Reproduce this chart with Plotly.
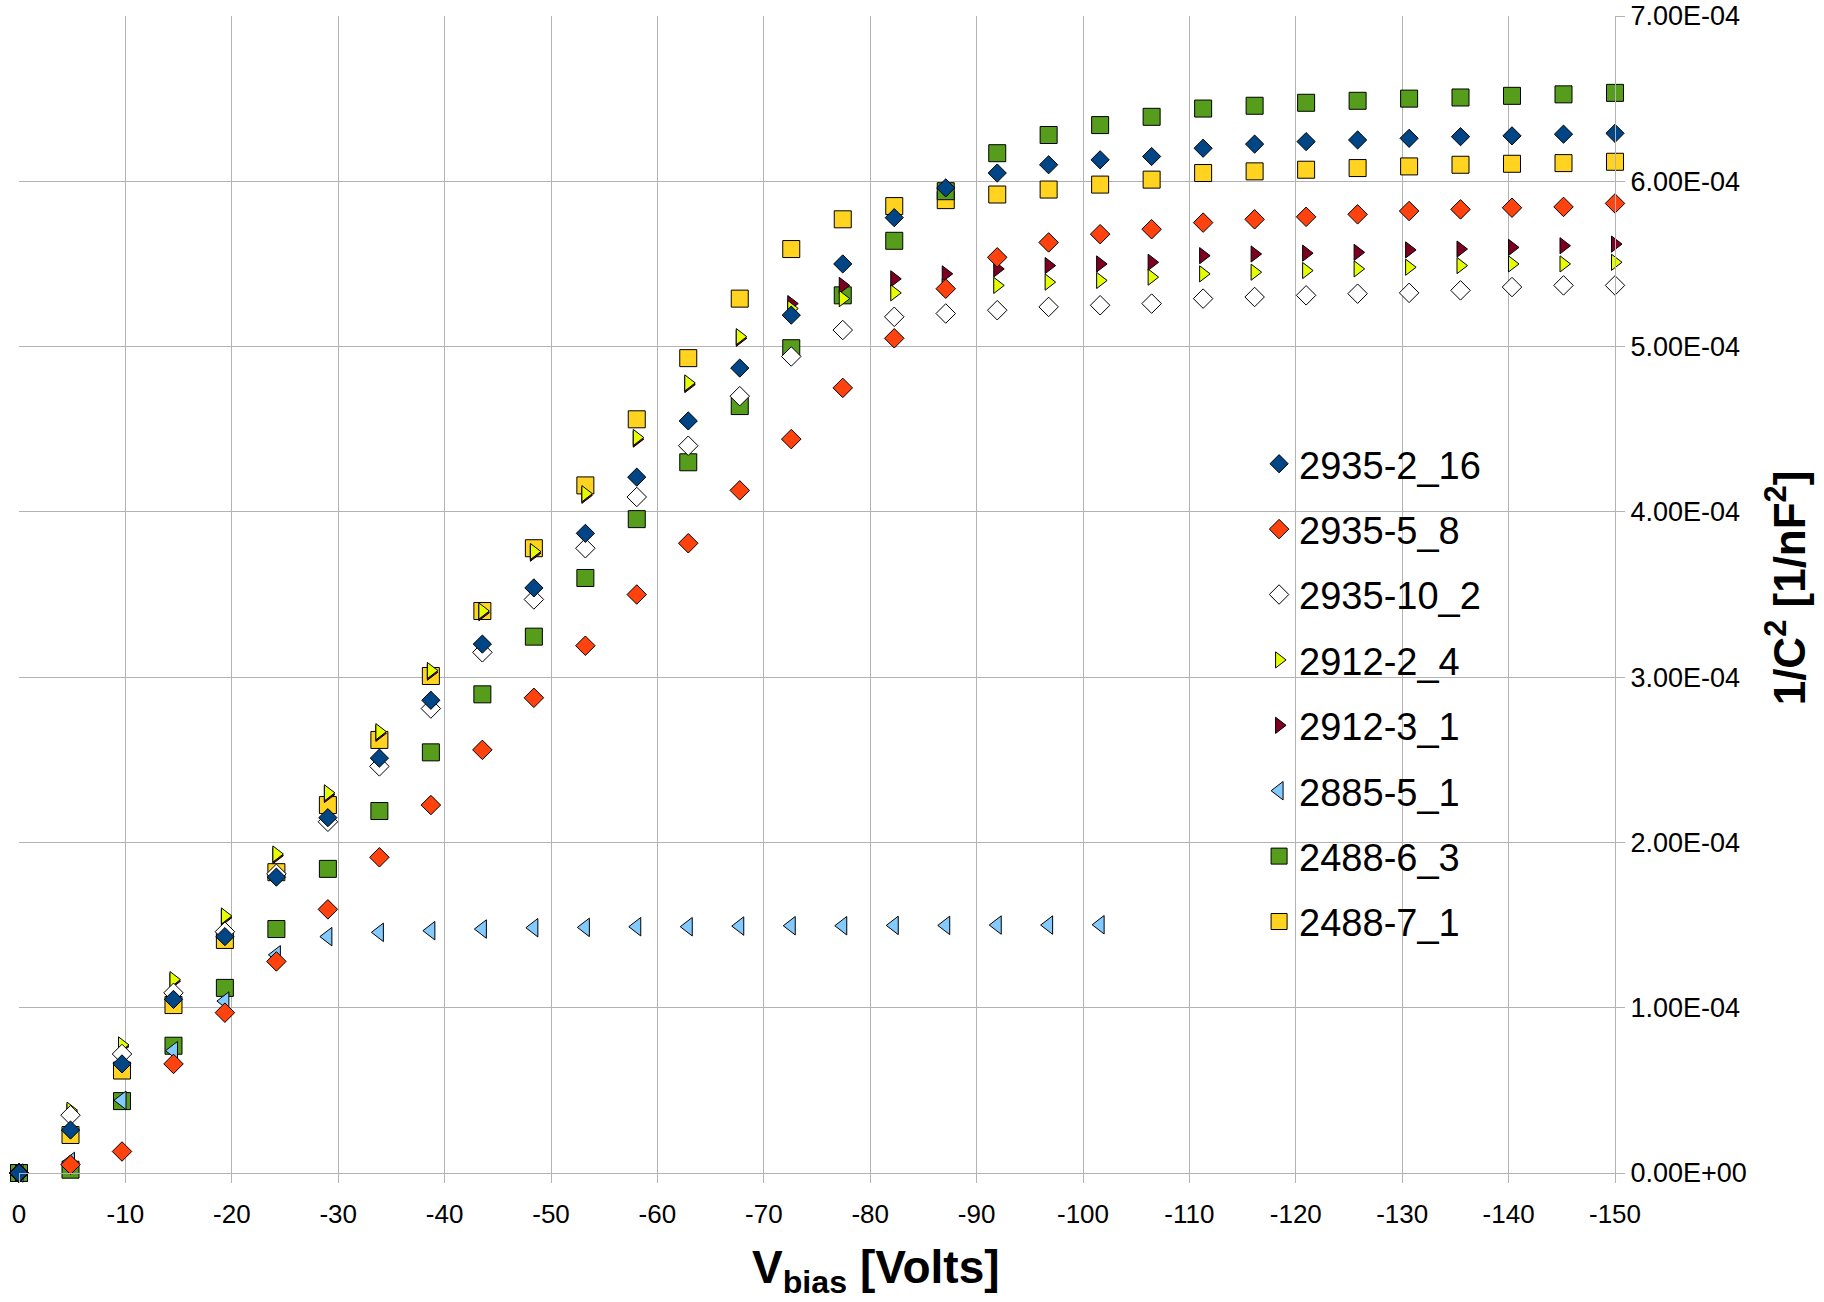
import plotly.graph_objects as go

# Bias voltage steps (V)
v_bias = [0, -4.84, -9.68, -14.52, -19.35, -24.19, -29.03, -33.87, -38.71, -43.55,
          -48.39, -53.23, -58.06, -62.90, -67.74, -72.58, -77.42, -82.26, -87.10, -91.94,
          -96.77, -101.61, -106.45, -111.29, -116.13, -120.97, -125.81, -130.65, -135.48,
          -140.32, -145.16, -150.0]

# 1/C^2 values, in units of 1e-4 nF^-2
s2935_2_16 = [0, 0.26, 0.66, 1.05, 1.43, 1.79, 2.15, 2.51, 2.86, 3.20, 3.54, 3.87, 4.21,
              4.55, 4.87, 5.19, 5.50, 5.78, 5.96, 6.05, 6.10, 6.13, 6.15, 6.20, 6.225,
              6.24, 6.25, 6.26, 6.27, 6.275, 6.285, 6.29]
s2935_5_8 = [0, 0.05, 0.13, 0.66, 0.97, 1.28, 1.595, 1.91, 2.226, 2.56, 2.875, 3.19, 3.50,
             3.81, 4.13, 4.44, 4.75, 5.05, 5.35, 5.54, 5.63, 5.68, 5.71, 5.75, 5.77, 5.785,
             5.80, 5.82, 5.83, 5.84, 5.845, 5.866]
s2935_10_2 = [0, 0.35, 0.72, 1.09, 1.46, 1.81, 2.125, 2.46, 2.81, 3.15, 3.47, 3.78, 4.09,
              4.40, 4.70, 4.94, 5.10, 5.18, 5.20, 5.22, 5.24, 5.25, 5.26, 5.29, 5.30, 5.31,
              5.32, 5.325, 5.34, 5.36, 5.37, 5.37]
s2912_2_4 = [0, 0.38, 0.775, 1.17, 1.555, 1.93, 2.30, 2.67, 3.04, 3.40, 3.76, 4.11, 4.45,
             4.78, 5.06, 5.23, 5.29, 5.325, 5.36, 5.37, 5.39, 5.40, 5.42, 5.44, 5.45, 5.46,
             5.47, 5.48, 5.49, 5.50, 5.50, 5.51]
s2912_3_1 = [0, 0.37, 0.765, 1.16, 1.545, 1.92, 2.29, 2.66, 3.03, 3.39, 3.75, 4.10, 4.44,
             4.77, 5.05, 5.26, 5.37, 5.41, 5.44, 5.47, 5.49, 5.50, 5.51, 5.55, 5.56, 5.565,
             5.57, 5.585, 5.59, 5.60, 5.61, 5.62]
s2885_5_1 = [0, 0.07, 0.44, 0.74, 1.04, 1.32, 1.43, 1.456, 1.466, 1.476, 1.484, 1.486,
             1.49, 1.49, 1.494, 1.496, 1.496, 1.498, 1.498, 1.50, 1.50, 1.502]
s2488_6_3 = [0, 0.02, 0.435, 0.77, 1.12, 1.476, 1.84, 2.19, 2.545, 2.896, 3.245, 3.60,
             3.956, 4.30, 4.64, 4.99, 5.31, 5.64, 5.94, 6.17, 6.28, 6.34, 6.39, 6.44, 6.457,
             6.475, 6.487, 6.50, 6.507, 6.517, 6.526, 6.535]
s2488_7_1 = [0, 0.23, 0.62, 1.016, 1.41, 1.82, 2.226, 2.62, 3.007, 3.40, 3.78, 4.16, 4.56,
             4.93, 5.29, 5.59, 5.77, 5.85, 5.886, 5.92, 5.95, 5.98, 6.01, 6.05, 6.06, 6.07,
             6.08, 6.09, 6.10, 6.106, 6.11, 6.118]

UNIT = 1e-4

x_ticks = [0, -10, -20, -30, -40, -50, -60, -70, -80, -90, -100, -110, -120, -130, -140, -150]
x_tick_text = ["0", "-10", "-20", "-30", "-40", "-50", "-60", "-70", "-80", "-90", "-100",
               "-110", "-120", "-130", "-140", "-150"]
y_ticks = [0, 1e-4, 2e-4, 3e-4, 4e-4, 5e-4, 6e-4, 7e-4]
y_tick_text = ["0.00E+00", "1.00E-04", "2.00E-04", "3.00E-04", "4.00E-04", "5.00E-04",
               "6.00E-04", "7.00E-04"]

# (name, values, symbol, fill, size)
series = [
    ("2935-2_16", s2935_2_16, "diamond", "#004586", 14),
    ("2935-5_8", s2935_5_8, "diamond", "#ff420e", 15),
    ("2935-10_2", s2935_10_2, "diamond", "#ffffff", 15),
    ("2912-2_4", s2912_2_4, "triangle-right", "#e6ff00", 14),
    ("2912-3_1", s2912_3_1, "triangle-right", "#7e0021", 14),
    ("2885-5_1", s2885_5_1, "triangle-left", "#83caff", 16),
    ("2488-6_3", s2488_6_3, "square", "#579d1c", 17),
    ("2488-7_1", s2488_7_1, "square", "#ffd320", 17),
]

fig = go.Figure()
# first series ends up on top, so add them in reverse and rank the legend explicitly
for rank, (name, vals, sym, col, size) in reversed(list(enumerate(series))):
    fig.add_trace(go.Scatter(
        x=v_bias[:len(vals)],
        y=[v * UNIT for v in vals],
        mode="markers",
        name=name,
        legendrank=rank + 1,
        legendgroup=name,
        cliponaxis=False,
        marker=dict(symbol=sym, color=col, size=size,
                    line=dict(color="#000000", width=1)),
    ))

grid = "#b3b3b3"
fig.update_layout(
    width=1824, height=1302,
    margin=dict(l=19, r=209, t=16, b=129, autoexpand=False),
    paper_bgcolor="#ffffff", plot_bgcolor="#ffffff",
    font=dict(family="Liberation Sans, Arial, sans-serif", color="#000000", size=27),
    showlegend=True,
    legend=dict(
        x=0.777, y=0.64, xanchor="left", yanchor="top",
        bgcolor="rgba(0,0,0,0)", borderwidth=0,
        font=dict(size=38, family="Liberation Sans, Arial, sans-serif"),
        tracegroupgap=13, traceorder="grouped",
    ),
    xaxis=dict(
        range=[0, -150], tickvals=x_ticks, ticktext=x_tick_text,
        showgrid=True, gridcolor=grid, gridwidth=1, zeroline=False,
        showline=True, linecolor=grid, linewidth=1,
        ticks="outside", ticklen=9, tickcolor=grid,
        ticklabelstandoff=9,
        tickfont=dict(size=26),
    ),
    yaxis=dict(
        range=[0, 7e-4], side="right", tickvals=y_ticks, ticktext=y_tick_text,
        showgrid=True, gridcolor=grid, gridwidth=1, zeroline=False,
        showline=True, linecolor=grid, linewidth=1,
        ticks="outside", ticklen=9, tickcolor=grid,
        tickfont=dict(size=27),
    ),
    annotations=[
        dict(text="<b>V<sub>bias</sub> [Volts]</b>", xref="paper", yref="paper",
             x=0.537, y=-0.084, xanchor="center", yanchor="middle", showarrow=False,
             font=dict(size=46)),
        dict(text="<b>1/C<sup>2</sup> [1/nF<sup>2</sup>]</b>", xref="paper", yref="paper",
             x=1.107, y=0.506, xanchor="center", yanchor="middle", showarrow=False,
             textangle=-90, font=dict(size=44)),
    ],
)

fig.write_html("out.html")
